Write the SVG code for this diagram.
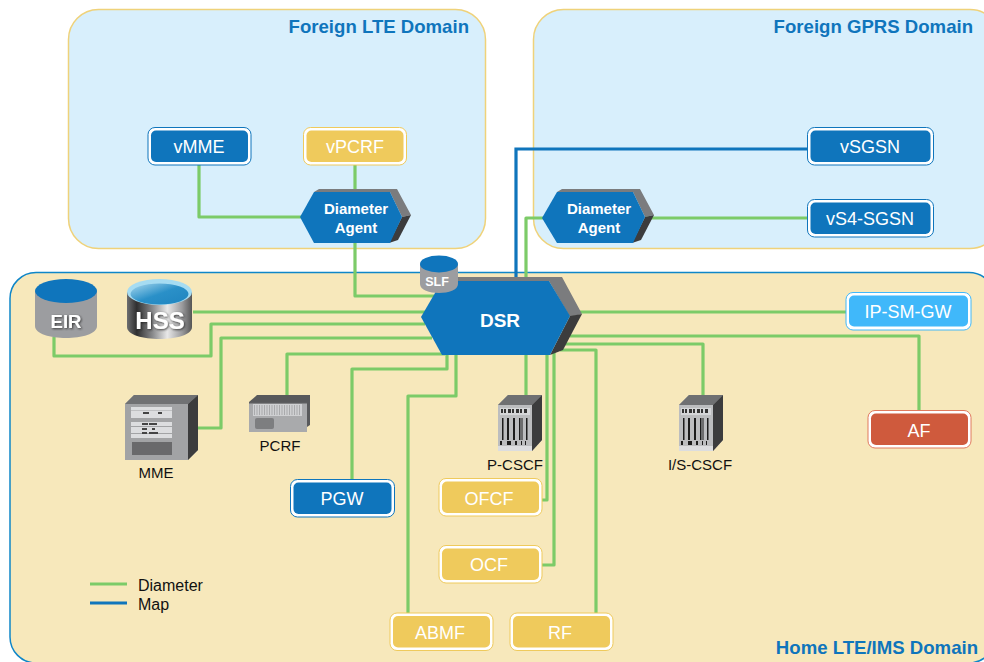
<svg xmlns="http://www.w3.org/2000/svg" width="984" height="662" viewBox="0 0 984 662">
<defs>
<linearGradient id="hssg" x1="0" x2="1" y1="0" y2="0"><stop offset="0" stop-color="#6d6e70"/><stop offset="0.15" stop-color="#2f2f30"/><stop offset="0.4" stop-color="#8b8c8e"/><stop offset="0.62" stop-color="#e8e8e8"/><stop offset="0.85" stop-color="#9a9a9c"/><stop offset="1" stop-color="#555"/></linearGradient>
<linearGradient id="hsst" x1="0" x2="1" y1="0" y2="1"><stop offset="0" stop-color="#a8d8ee"/><stop offset="0.5" stop-color="#2a90c8"/><stop offset="1" stop-color="#1f84bf"/></linearGradient>
<filter id="ts" x="-20%" y="-20%" width="140%" height="140%"><feDropShadow dx="1" dy="1" stdDeviation="0.800" flood-color="#222" flood-opacity="0.800"/></filter>
<g id="rack">
<path d="M0 10 L10 0 H44 V45 L34 56 H0Z" fill="#a2a3a5"/>
<path d="M0 10 L10 0 H44 L34 10Z" fill="#6f7072"/>
<path d="M34 10 L44 0 V45 L34 56Z" fill="#3c3c3d"/>
<rect x="0" y="10" width="34" height="46" fill="#bcbdbf"/>
<rect x="0" y="51" width="34" height="5" fill="#dcdddf"/>
<rect x="2" y="13" width="30" height="7" fill="#d5d6d8"/>
<path d="M3 14h2v4h-2zM6 14h2v4h-2zM10 14h3v4h-3zM14 14h2v4h-2zM18 14h3v4h-3zM22 14h2v4h-2zM26 14h3v4h-3z" fill="#333"/>
<path d="M4 23h1.500v22h-1.500zM9 23h2v22h-2zM15 23h2v22h-2zM21 23h1.500v22h-1.500zM23.500 23h1v22h-1zM28 23h1.500v22h-1.500z" fill="#1c1c1c"/>
<path d="M2 46h2v4h-2zM9 46h4v4h-4zM17 46h2v4h-2zM23 46h1v4h-1zM27 46h1v4h-1z" fill="#1c1c1c"/>
</g>
</defs>
<style>
.dom{stroke-width:1.500}
.title{font:bold 18.600px "Liberation Sans",Arial,sans-serif;fill:#0f75bc;text-anchor:end}
.con{fill:none;stroke:#7ccb68;stroke-width:3.200;stroke-linejoin:round}
.map{fill:none;stroke:#0f75bc;stroke-width:3.200}
.nt{font:18px "Liberation Sans",Arial,sans-serif;fill:#fff;text-anchor:middle}
.lab{font:15px "Liberation Sans",Arial,sans-serif;fill:#111;text-anchor:middle}
.lt{font:bold 15px "Liberation Sans",Arial,sans-serif;fill:#fff;text-anchor:middle}
.o{fill:#fff;stroke-width:1}
.blue{fill:#0f75bc}
.yel{fill:#efca5c}
.gray{fill:#7b7c7e}
.dark{fill:#3c3c3d}
</style>

<rect id="foreign-lte" class="dom" x="68.500" y="9.500" width="417" height="239" rx="30" fill="#d8effc" stroke="#efd27a"/>
<rect id="foreign-gprs" class="dom" x="533.500" y="9.500" width="466.500" height="239" rx="30" fill="#d8effc" stroke="#efd27a"/>
<rect id="home" class="dom" x="10" y="272.500" width="985" height="390.500" rx="26" fill="#f7e8bb" stroke="#0f86c8"/>
<text class="title" x="469" y="33">Foreign LTE Domain</text>
<text class="title" x="973" y="33">Foreign GPRS Domain</text>
<text class="title" x="978" y="654">Home LTE/IMS Domain</text>

<g id="connectors">
<path class="map" d="M516 281V149H808"/>
<path class="con" d="M199 164V217H302"/>
<path class="con" d="M355 164V192"/>
<path class="con" d="M355 243V296H434"/>
<path class="con" d="M526 280V218H544"/>
<path class="con" d="M645 218H808"/>
<path class="con" d="M193 312H425"/>
<path class="con" d="M54 337V356H211V324H425"/>
<path class="con" d="M197 428H221V338H432"/>
<path class="con" d="M287 396V354H445"/>
<path class="con" d="M352 480V369H447V353"/>
<path class="con" d="M408 613V396H456V355"/>
<path class="con" d="M526 354V396"/>
<path class="con" d="M547 354V500H541"/>
<path class="con" d="M554 352V565H541"/>
<path class="con" d="M560 350H596V613"/>
<path class="con" d="M575 312H847"/>
<path class="con" d="M570 336H919V411"/>
<path class="con" d="M565 344H703V396"/>
</g>

<g id="vMME"><rect class="o" x="148" y="127.500" width="103" height="37.500" rx="7" stroke="#0f75bc"/><rect class="blue" x="151" y="130.500" width="97" height="31.500" rx="5"/><text class="nt" x="199" y="153">vMME</text></g>
<g id="vPCRF"><rect class="o" x="303.500" y="127.500" width="103" height="37.500" rx="7" stroke="#efca5c"/><rect class="yel" x="306.500" y="130.500" width="97" height="31.500" rx="5"/><text class="nt" x="355" y="153">vPCRF</text></g>
<g id="vSGSN"><rect class="o" x="807.500" y="127.500" width="126" height="37.500" rx="7" stroke="#0f75bc"/><rect class="blue" x="810.500" y="130.500" width="120" height="31.500" rx="5"/><text class="nt" x="870" y="153">vSGSN</text></g>
<g id="vS4-SGSN"><rect class="o" x="807.500" y="199.500" width="126" height="37.500" rx="7" stroke="#0f75bc"/><rect class="blue" x="810.500" y="202.500" width="120" height="31.500" rx="5"/><text class="nt" x="870" y="225">vS4-SGSN</text></g>
<g id="IP-SM-GW"><rect class="o" x="846" y="292.500" width="125" height="37.500" rx="7" stroke="#40b8fa"/><rect x="849" y="295.500" width="119" height="31" rx="5" fill="#40b8fa"/><text class="nt" x="908" y="318">IP-SM-GW</text></g>
<g id="AF"><rect class="o" x="868" y="410.500" width="103" height="37.500" rx="7" stroke="#e07a5e"/><rect x="871" y="413.500" width="97" height="31.500" rx="5" fill="#cf5a3d"/><text class="nt" x="919" y="437">AF</text></g>
<g id="PGW"><rect class="o" x="290.500" y="479.500" width="104" height="37.500" rx="7" stroke="#0f75bc"/><rect class="blue" x="293.500" y="482.500" width="98" height="31.500" rx="5"/><text class="nt" x="342" y="505">PGW</text></g>
<g id="OFCF"><rect class="o" x="439" y="478.500" width="103" height="37.500" rx="7" stroke="#efca5c"/><rect class="yel" x="442" y="481.500" width="97" height="31.500" rx="5"/><text class="nt" x="489" y="505">OFCF</text></g>
<g id="OCF"><rect class="o" x="439" y="545.500" width="103" height="37.500" rx="7" stroke="#efca5c"/><rect class="yel" x="442" y="548.500" width="97" height="31.500" rx="5"/><text class="nt" x="489" y="571">OCF</text></g>
<g id="ABMF"><rect class="o" x="390" y="613" width="103" height="37.500" rx="7" stroke="#efca5c"/><rect class="yel" x="393" y="616" width="97" height="31.500" rx="5"/><text class="nt" x="440" y="639">ABMF</text></g>
<g id="RF"><rect class="o" x="510" y="613" width="103" height="37.500" rx="7" stroke="#efca5c"/><rect class="yel" x="513" y="616" width="97" height="31.500" rx="5"/><text class="nt" x="560" y="639">RF</text></g>

<g id="agent-lte">
<path class="gray" d="M314 192L319 189H397L411 215L402 217L390 192Z"/>
<path class="dark" d="M402 217L411 215L398 240L389 243Z"/>
<path class="blue" d="M300 217L314 192H390L402 217L390 243H314Z"/>
<text class="lt" x="356" y="214">Diameter</text><text class="lt" x="356" y="233">Agent</text>
</g>
<g id="agent-gprs">
<path class="gray" d="M557 192L562 189H640L654 215L645 217L633 192Z"/>
<path class="dark" d="M645 217L654 215L641 240L632 243Z"/>
<path class="blue" d="M542 218L557 192H633L645 217L633 243H557Z"/>
<text class="lt" x="599" y="214">Diameter</text><text class="lt" x="599" y="233">Agent</text>
</g>
<g id="DSR">
<path class="gray" d="M442 281L452 277H562L582 314L570 317L549 281Z"/>
<path class="dark" d="M570 316L582 314L563 350L550 355Z"/>
<path class="blue" d="M421 317L442 281H549L570 316L550 355H442Z"/>
<text x="500" y="327" font-family="Liberation Sans,Arial,sans-serif" font-weight="bold" font-size="19" fill="#fff" text-anchor="middle">DSR</text>
</g>
<g id="SLF">
<path d="M420 264V284C420 296 458 296 458 284V264Z" fill="#9c9da0"/>
<ellipse class="blue" cx="439" cy="264" rx="19" ry="8.500"/>
<text x="437" y="286" font-family="Liberation Sans,Arial,sans-serif" font-weight="bold" font-size="12.500" fill="#fff" text-anchor="middle">SLF</text>
</g>
<g id="EIR">
<path d="M35 291V326C35 342 97 342 97 326V291Z" fill="#9c9da0"/>
<ellipse class="blue" cx="66" cy="291" rx="31" ry="12"/>
<text x="66" y="328" font-family="Liberation Sans,Arial,sans-serif" font-weight="bold" font-size="18.500" fill="#fff" text-anchor="middle" filter="url(#ts)">EIR</text>
</g>
<g id="HSS">
<path d="M127 292V327C127 343 192 343 192 327V292Z" fill="url(#hssg)"/>
<ellipse cx="159.500" cy="292" rx="32.500" ry="13" fill="#a6dcf2"/>
<ellipse cx="159.500" cy="294" rx="29" ry="10.500" fill="url(#hsst)"/>
<text x="160" y="329" font-family="Liberation Sans,Arial,sans-serif" font-weight="bold" font-size="24" fill="#fff" text-anchor="middle" filter="url(#ts)">HSS</text>
</g>
<g id="MME">
<path d="M125 404L134 395H198V450L188 460H125Z" fill="#a2a3a5"/>
<path d="M125 404L134 395H198L188 404Z" fill="#707173"/>
<path d="M188 404L198 395V450L188 460Z" fill="#3c3c3d"/>
<rect x="131" y="407" width="41" height="3.500" fill="#dcdddf"/><rect x="131" y="411" width="41" height="7" fill="#dcdddf"/><rect x="131" y="422" width="41" height="4" fill="#dcdddf"/><rect x="131" y="427" width="41" height="6" fill="#dcdddf"/><rect x="131" y="434" width="41" height="4" fill="#dcdddf"/>
<path d="M143 412h6v2h-6zM158 412h4v2h-4zM142 423h6v2h-6zM149 423h8v2h-8zM142 428h5v2h-5zM152 428h3v2h-3zM142 432h5v2h-5zM149 432h9v2h-9z" fill="#444"/>
<rect x="132" y="442" width="40" height="13" fill="#69696b"/>
<text class="lab" x="156" y="478">MME</text>
</g>
<g id="PCRF">
<path d="M249 402L257 395H310V425L307 427H249Z" fill="#58595b"/>
<rect x="249" y="402" width="58" height="30" fill="#a9aaac"/>
<path d="M249 402h58v1.500h-58z" fill="#5c5d5f"/>
<rect x="253" y="404" width="49" height="12" fill="#cfd0d2"/>
<path d="M254 410H301" stroke="#a9aaac" stroke-width="10" stroke-dasharray="1 1.500"/>
<rect x="255" y="418" width="19" height="11" rx="2" fill="#7d7e80"/>
<text class="lab" x="280" y="451">PCRF</text>
</g>
<g id="P-CSCF"><use href="#rack" x="498" y="395"/><text class="lab" x="515" y="470">P-CSCF</text></g>
<g id="I-S-CSCF"><use href="#rack" x="679" y="395"/><text class="lab" x="700" y="470">I/S-CSCF</text></g>
<g id="legend">
<path d="M90 584H127" stroke="#7ccb68" stroke-width="3.200"/>
<path d="M90 603H127" stroke="#0f75bc" stroke-width="3.200"/>
<text class="lab" x="138" y="591" style="text-anchor:start;font-size:16px">Diameter</text>
<text class="lab" x="138" y="610" style="text-anchor:start;font-size:16px">Map</text>
</g>
</svg>
